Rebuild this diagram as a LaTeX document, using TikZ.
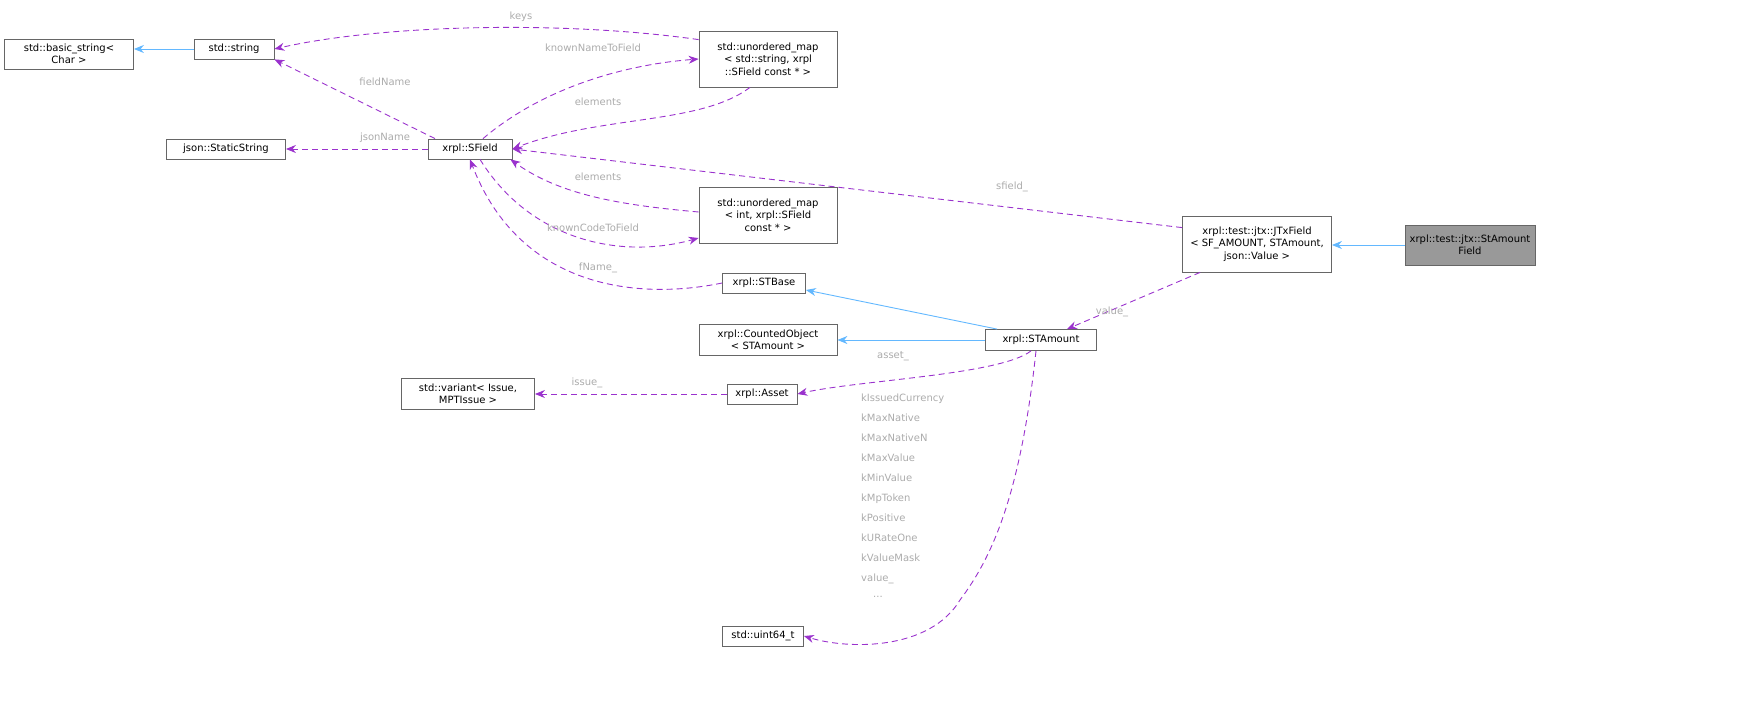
\documentclass[tikz,border=0pt]{standalone}
\usepackage{fontspec}
\setmainfont{DejaVu Sans}
\usetikzlibrary{arrows.meta}
\definecolor{purp}{HTML}{9A32CD}
\definecolor{bl}{HTML}{63B8FF}
\definecolor{lbl}{HTML}{ABABAB}
\begin{document}
\begin{tikzpicture}[x=1pt,y=-1pt,
 box/.style={draw=black!60,fill=white,inner sep=2pt,align=center,font=\fontsize{10}{12.5}\selectfont,line width=0.8pt},
 inh/.style={-{Stealth[length=10pt,width=8pt]},draw=bl,line width=0.9pt},
 use/.style={-{Stealth[length=10pt,width=8pt]},draw=purp,dash pattern=on 6pt off 4pt,line width=0.9pt},
 lab/.style={text=lbl,font=\fontsize{10}{12}\selectfont,inner sep=1pt}]
\useasboundingbox (0,0) rectangle (1741,722);
\node[box,minimum width=129,minimum height=30] (bs) at (69,54) {std::basic\_string\textless\\Char \textgreater};
\node[box,minimum width=80,minimum height=20] (str) at (234,49) {std::string};
\node[box,minimum width=119,minimum height=20] (js) at (226,149) {json::StaticString};
\node[box,minimum width=84,minimum height=20] (sf) at (470,149) {xrpl::SField};
\node[box,minimum width=138,minimum height=56] (m1) at (768,59) {std::unordered\_map\\\textless{} std::string, xrpl\\::SField const * \textgreater};
\node[box,minimum width=138,minimum height=56] (m2) at (768,215) {std::unordered\_map\\\textless{} int, xrpl::SField\\ const * \textgreater};
\node[box,minimum width=83,minimum height=20] (stb) at (764,283) {xrpl::STBase};
\node[box,minimum width=138,minimum height=31] (co) at (768,340) {xrpl::CountedObject\\\textless{} STAmount \textgreater};
\node[box,minimum width=111,minimum height=21] (sta) at (1041,340) {xrpl::STAmount};
\node[box,minimum width=70,minimum height=20] (as) at (762,394) {xrpl::Asset};
\node[box,minimum width=133,minimum height=31] (var) at (468,394) {std::variant\textless{} Issue,\\MPTIssue \textgreater};
\node[box,minimum width=81,minimum height=20] (u64) at (763,636) {std::uint64\_t};
\node[box,minimum width=149,minimum height=56] (jtx) at (1257,244) {xrpl::test::jtx::JTxField\\\textless{} SF\_AMOUNT, STAmount,\\json::Value \textgreater};
\node[box,fill=black!40,minimum width=130,minimum height=40] (saf) at (1470,245) {xrpl::test::jtx::StAmount\\Field};
% inheritance
\draw[inh] (str.west) -- (bs.east |- str.west);
\draw[inh] (saf.west) -- (jtx.east |- saf.west);
\draw[inh] (sta.north west) ++(12,0) coordinate (s1) -- (stb.east |- 0,290);
\draw[inh] (sta.west) -- (co.east);
% usage
\draw[use] (m1.north west) ++(0,9) coordinate (k1) .. controls (560,20) and (380,25) .. (str.east);
\draw[use] (sf.north) ++(-35,0) coordinate (f1) -- (str.south east);
\draw[use] (sf.north) ++(13,0) coordinate (f2) .. controls (540,90) and (620,65) .. (m1.west);
\draw[use] (m1.south) ++(-18,0) coordinate (m1b) .. controls (700,125) and (600,115) .. (sf.east);
\draw[use] (sf.west) -- (js.east);
\draw[use] (m2.west) ++(0,-3) coordinate (m2a) .. controls (620,205) and (560,195) .. ([xshift=-2pt]sf.south east);
\draw[use] (sf.south) ++(10,0) coordinate (f3) .. controls (530,240) and (620,260) .. (m2.west |- 0,238);
\draw[use] (stb.west) .. controls (640,300) and (520,290) .. (sf.south);
\draw[use] (jtx.north west) ++(0,12) coordinate (j1) -- (sf.east);
\draw[use] (jtx.south west) ++(18,0) coordinate (j2) -- ([xshift=-30pt]sta.north east);
\draw[use] (sta.south) ++(-10,0) coordinate (s2) .. controls (1000,375) and (860,380) .. (as.east);
\draw[use] (as.west) -- (var.east);
\draw[use] (sta.south) ++(-5,0) coordinate (s3) .. controls (1020,500) and (990,560) .. (960,600) .. controls (930,650) and (850,650) .. (u64.east);
\node[lab] (l1) at (521,17) {keys};
\node[lab] (l2) at (385,82) {fieldName};
\node[lab] (l3) at (593,48) {knownNameToField};
\node[lab] (l4) at (598,102) {elements};
\node[lab] (l5) at (385,138) {jsonName};
\node[lab] (l6) at (598,177) {elements};
\node[lab] (l7) at (593,228) {knownCodeToField};
\node[lab] (l8) at (598,268) {fName\_};
\node[lab] (l9) at (1012,187) {sfield\_};
\node[lab] (l10) at (1112,312) {value\_};
\node[lab] (l11) at (893,356) {asset\_};
\node[lab] (l12) at (587,383) {issue\_};
\node[lab,align=left,anchor=north west,font=\fontsize{10}{20}\selectfont] (ml) at (860,393) {kIssuedCurrency\\kMaxNative\\kMaxNativeN\\kMaxValue\\kMinValue\\kMpToken\\kPositive\\kURateOne\\kValueMask\\value\_\\[-4pt]\hspace*{12pt}...};
\end{tikzpicture}
\end{document}
